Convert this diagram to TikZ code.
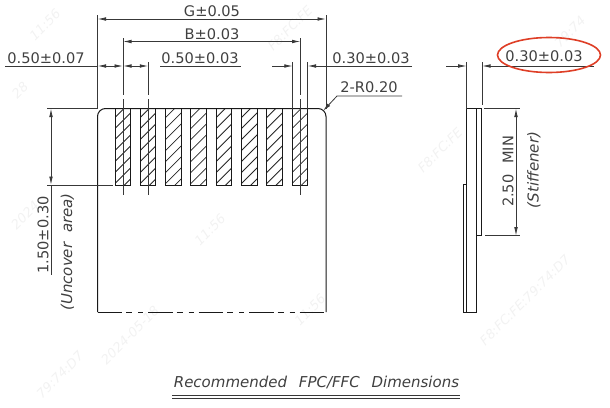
\documentclass[tikz,border=0pt]{standalone}
\usepackage{fontspec}
\setmainfont{DejaVu Sans}
\usepackage{tikz}
\usetikzlibrary{calc}
\usetikzlibrary{arrows.meta}

\definecolor{inkgray}{gray}{0.22}
\definecolor{markred}{RGB}{222,62,38}

\tikzset{
	outline/.style={line width=1pt, draw=black!90},
	dimline/.style={line width=0.8pt, draw=inkgray},
	dimarrow/.style={dimline, arrows=-{Latex[length=8.5pt,width=3.6pt]}},
	dimtwo/.style={dimline, arrows={Latex[length=8.5pt,width=3.6pt]}-{Latex[length=8.5pt,width=3.6pt]}},
	dimtext/.style={text=black!75, font=\fontsize{14.6}{16}\selectfont, inner sep=0pt},
	notetext/.style={text=black!75, font=\fontsize{15}{17}\selectfont\itshape, inner sep=0pt},
	hatch/.style={line width=0.8pt, draw=black!85},
	stamp/.style={text=black!5, font=\fontsize{13}{15}\selectfont\itshape, inner sep=0pt, rotate=45},
}

\begin{document}
\begin{tikzpicture}[x=1pt, y=-1pt]
	\useasboundingbox (0,0) rectangle (610,407);

	% faint stamps
	\foreach \px/\py/\stext [count=\n] in {45/25/11:56, 290/28/F8:FC:FE, 570/32/79:74, 20/90/28, 440/150/F8:FC:FE, 210/230/11:56, 25/215/2024, 130/335/2024-05-18, 310/310/11:56, 60/375/79:74:D7, 525/300/F8:FC:FE:79:74:D7}
		\node [stamp] (stamp\n) at (\px,\py) {\stext};

	\coordinate (bodyTL) at (97.5,108.5);
	\coordinate (bodyTR) at (326,108.5);
	\coordinate (bodyBR) at (326,312);
	\coordinate (bodyBL) at (97.5,312);

	% front view
	\draw [outline, rounded corners=8pt] (bodyBL) -- (bodyTL) -- (bodyTR) -- (bodyBR);
	\draw [outline, dash pattern=on 24.5pt off 4pt on 6pt off 6pt on 5pt off 5pt] (bodyBL) -- (bodyBR);

	% pads with hatching
	\foreach \i in {0,...,7} {
		\pgfmathsetmacro{\padx}{115+25.3*\i}
		\begin{scope}
			\clip (\padx,108.5) rectangle ++(15.6,76.5);
			\foreach \k in {0,...,9}
				\draw [hatch] (\padx-2,108.5+11*\k) -- ++(20,-20);
		\end{scope}
		\draw [outline] (\padx,108.5) rectangle ++(15.6,76.5);
	}

	% side view
	\draw [outline] (466.7,108.5) rectangle (476.7,312);
	\draw [outline] (476.7,108.5) rectangle (481.8,235.7);
	\draw [outline] (466.7,184.5) -- (463.3,184.5) -- (463.3,312) -- (466.7,312);

	% overall widths
	\draw [dimline] (97.5,15) -- (bodyTL);
	\draw [dimline] (326,15) -- (bodyTR);
	\draw [dimtwo] (97.5,19) -- (326,19);
	\node [dimtext] (widthG) at (212,11.5) {G±0.05};
	\draw [dimline] (123,38) -- (123,95);
	\draw [dimline] (123,99) -- (123,195);
	\draw [dimline] (300.5,38) -- (300.5,95);
	\draw [dimline] (300.5,99) -- (300.5,195);
	\draw [dimtwo] (123,41.5) -- (300.5,41.5);
	\node [dimtext] (widthB) at (212,34) {B±0.03};

	% pad pitch
	\draw [dimline] (148.3,62) -- (148.3,95);
	\draw [dimline] (148.3,99) -- (148.3,195);
	\draw [dimline] (5,66) -- (97.5,66);
	\draw [dimarrow] (110,66) -- (97.5,66);
	\draw [dimarrow] (110,66) -- (123,66);
	\draw [dimarrow] (135.5,66) -- (123,66);
	\draw [dimarrow] (135.5,66) -- (148.3,66);
	\node [dimtext] (edgeGap) at (46,58.5) {0.50±0.07};
	\draw [dimline] (160,66) -- (241,66);
	\node [dimtext] (padPitch) at (200,58.5) {0.50±0.03};

	% pad width
	\draw [dimline] (292.8,62) -- (292.8,108.5);
	\draw [dimline] (307.5,62) -- (307.5,108.5);
	\draw [dimarrow] (272,66) -- (292.8,66);
	\draw [dimarrow] (412,66) -- (307.5,66);
	\node [dimtext] (padWidth) at (371,58.5) {0.30±0.03};

	% corner radius
	\draw [dimarrow] (402,96) -- (337,96) -- (323,111);
	\node [dimtext] (cornerR) at (369,87) {2-R0.20};

	% uncover area
	\draw [dimline] (47,108.5) -- (bodyTL);
	\draw [dimline] (47,185) -- (113,185);
	\draw [dimline] (51,185) -- (51,275);
	\draw [dimtwo] (51,108.5) -- (51,185);
	\node [dimtext, rotate=90] (uncoverDim) at (43,235) {1.50±0.30};
	\node [notetext, rotate=90] (uncoverNote) at (67.5,252) {(Uncover\hspace{5pt} area)};

	% thickness
	\draw [dimline] (466.7,62) -- (466.7,108.5);
	\draw [dimline] (482,62) -- (482,105);
	\draw [dimarrow] (446,66) -- (466.7,66);
	\draw [dimarrow] (594,66) -- (482,66);
	\node [dimtext] (stiffThick) at (544,56) {0.30±0.03};
	\draw [draw=markred, line width=1.6pt] (549,55) ellipse (51.5 and 17.5);

	% stiffener
	\draw [dimline] (484,108.5) -- (520,108.5);
	\draw [dimline] (485,235.7) -- (520,235.7);
	\draw [dimtwo] (516,108.5) -- (516,235.7);
	\node [dimtext, rotate=90] (stiffDim) at (508,171.5) {2.50\hspace{6pt} MIN};
	\node [notetext, rotate=90] (stiffNote) at (534,170) {(Stiffener)};

	% title
	\node [notetext] (title) at (316.5,382.5) {Recommended\hspace{7pt} FPC/FFC\hspace{7pt} Dimensions};
	\draw [dimline] (172,395.5) -- (460,395.5);
	\draw [dimline] (172,398) -- (460,398);

\end{tikzpicture}
\end{document}
